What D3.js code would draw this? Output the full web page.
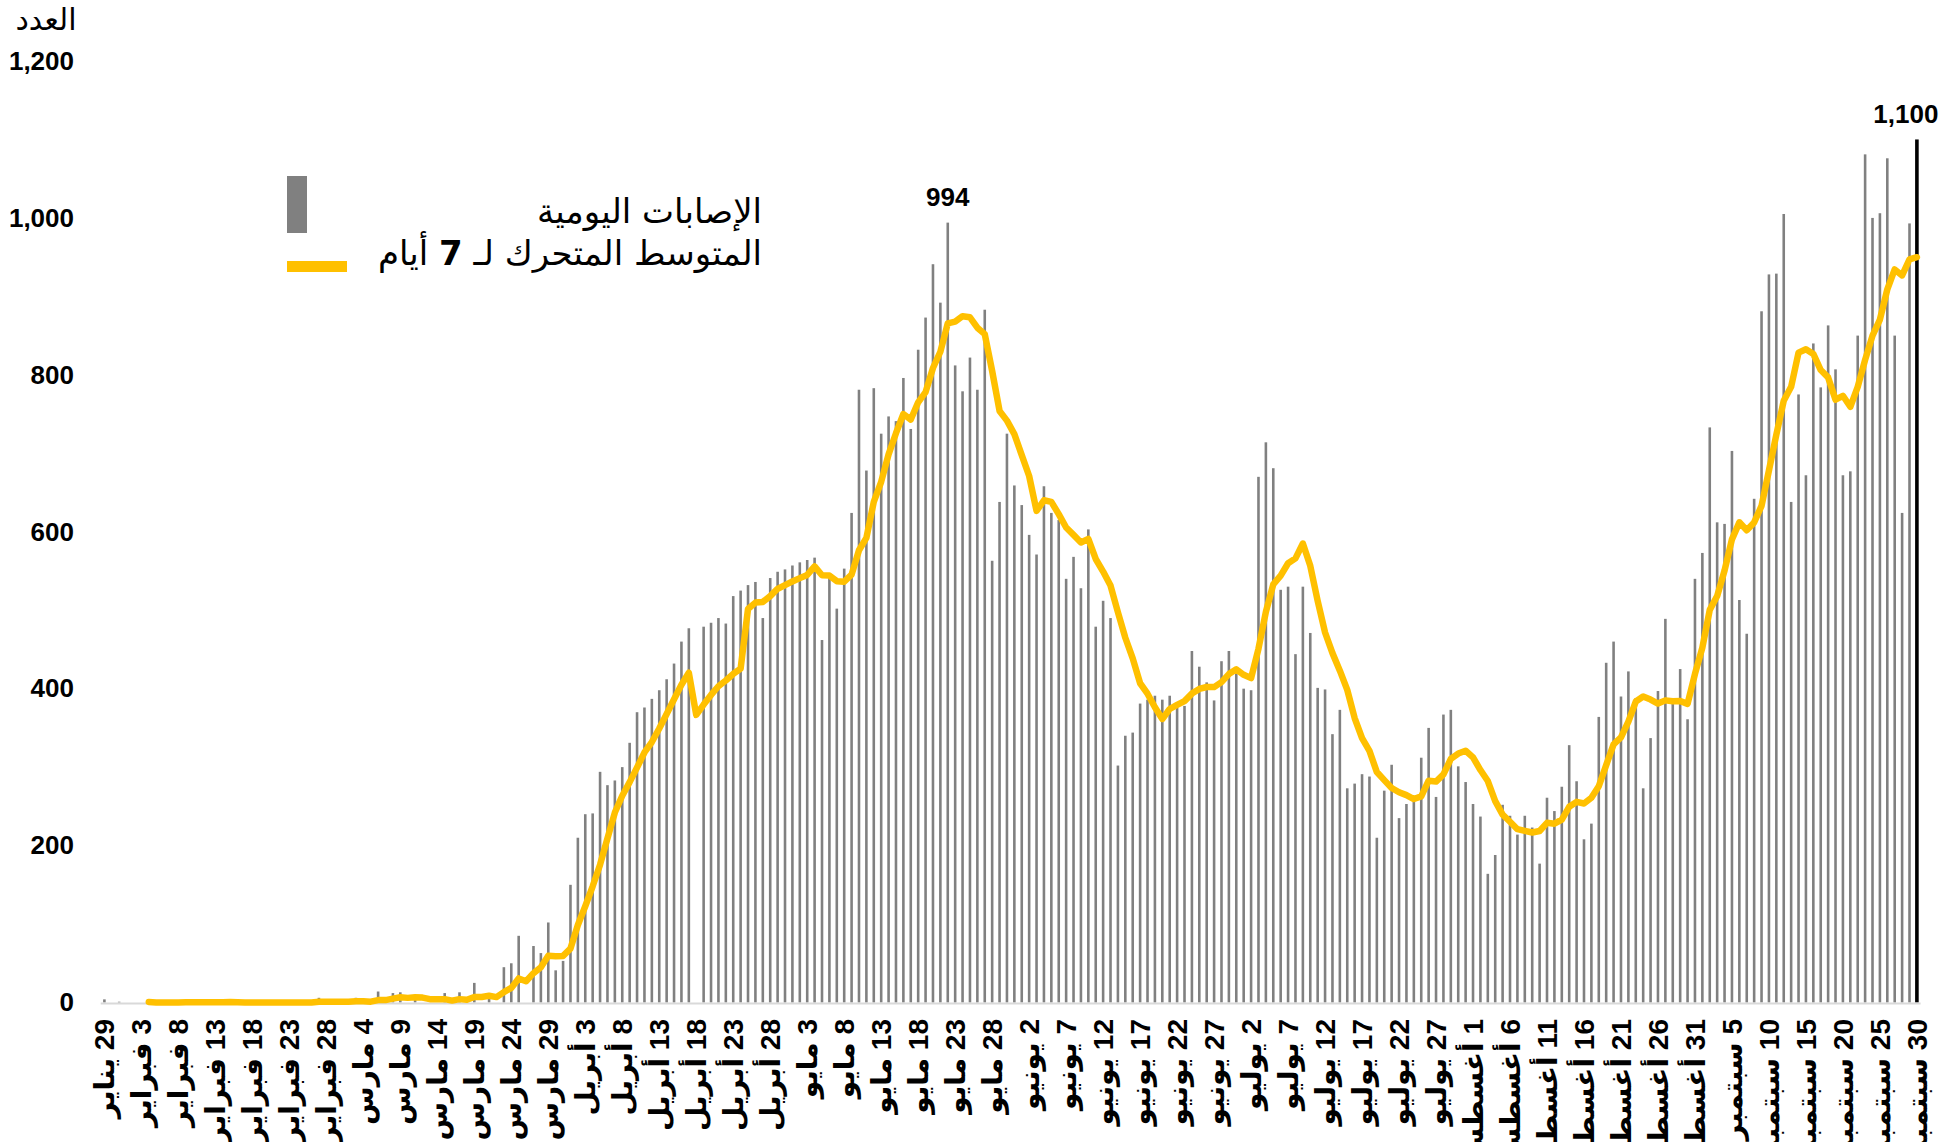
<!DOCTYPE html>
<html lang="ar">
<head>
<meta charset="utf-8">
<script src="https://cdn.jsdelivr.net/npm/d3@7"></script>
<style>
  body { margin: 0; background: #fff; }
  svg { display: block; }
</style>
</head>
<body>
<div id="chart"></div>
<script>
// Daily cases, 29 Jan -> 30 Sep (one value per day)
var dailyCases = [
  4, 0, 1, 0, 0, 0, 0, 0, 0, 0,
  0, 2, 1, 0, 0, 0, 0, 1, 0, 0,
  0, 0, 0, 0, 0, 0, 0, 0, 0, 6,
  0, 0, 0, 0, 6, 0, 2, 14, 0, 12,
  13, 0, 5, 0, 0, 0, 12, 0, 13, 0,
  25, 0, 10, 0, 45, 50, 85, 0, 72, 63,
  102, 41, 53, 150, 210, 240, 241, 294, 277, 283,
  300, 331, 370, 376, 387, 398, 412, 432, 460, 477,
  0, 479, 484, 490, 483, 518, 525, 532, 536, 490,
  541, 549, 552, 557, 561, 564, 567, 462, 546, 502,
  553, 624, 781, 678, 783, 725, 747, 741, 796, 731,
  832, 873, 941, 892, 994, 812, 779, 822, 781, 883,
  563, 638, 725, 659, 634, 596, 571, 658, 624, 615,
  540, 568, 528, 603, 479, 512, 490, 302, 340, 344,
  381, 386, 391, 386, 391, 376, 378, 448, 428, 408,
  385, 435, 448, 420, 400, 398, 670, 714, 681, 526,
  530, 444, 530, 471, 401, 399, 342, 373, 273, 279,
  291, 288, 210, 270, 303, 235, 253, 256, 312, 350,
  262, 367, 373, 301, 281, 253, 237, 164, 188, 252,
  238, 214, 238, 223, 177, 261, 244, 275, 328, 282,
  208, 228, 364, 433, 460, 390, 422, 388, 273, 337,
  397, 489, 382, 425, 361, 540, 573, 733, 612, 610,
  703, 513, 470, 642, 881, 928, 929, 1005, 638, 775,
  672, 840, 784, 863, 807, 672, 677, 850, 1081, 1000,
  1006, 1076, 850, 624, 993, 1100
];

// 7 day moving average
var movingAvg = [
  null, null, null, null, null, null, 0.7, 0.1, 0.1, 0,
  0, 0.3, 0.4, 0.4, 0.4, 0.4, 0.4, 0.6, 0.3, 0.1,
  0.1, 0.1, 0.1, 0.1, 0, 0, 0, 0, 0, 0.9,
  0.9, 0.9, 0.9, 0.9, 1.7, 1.7, 1.1, 3.1, 3.1, 4.9,
  6.7, 5.9, 6.6, 6.3, 4.3, 4.3, 4.3, 2.4, 4.3, 3.6,
  7.1, 7.1, 8.6, 6.9, 13.3, 18.6, 30.7, 27.1, 37.4, 45,
  59.6, 59, 59.4, 68.7, 98.7, 122.7, 148.1, 175.6, 209.3, 242.1,
  263.6, 280.9, 299.4, 318.7, 332, 349.3, 367.7, 386.6, 405, 420.3,
  366.6, 379.7, 392, 403.1, 410.4, 418.7, 425.6, 501.6, 509.7, 510.6,
  517.9, 527.3, 532.1, 536.7, 540.9, 544.9, 555.9, 544.6, 544.1, 537,
  536.4, 545.4, 576.4, 592.3, 638.1, 663.7, 698.7, 725.6, 750.1, 743,
  765, 777.9, 808.7, 829.4, 865.6, 867.9, 874.7, 873.3, 860.1, 851.9,
  804.9, 754, 741.6, 724.4, 697.6, 671.1, 626.6, 640.1, 638.1, 622.4,
  605.4, 596, 586.3, 590.9, 565.3, 549.3, 531.4, 497.4, 464.9, 438.6,
  406.9, 393.6, 376.3, 361.4, 374.1, 379.3, 384.1, 393.7, 399.7, 402.1,
  402, 408.3, 418.6, 424.6, 417.7, 413.4, 450.9, 497.9, 533, 544.1,
  559.9, 566.1, 585, 556.6, 511.9, 471.6, 445.3, 422.9, 398.4, 362.6,
  336.9, 320.7, 293.7, 283.4, 273.4, 268, 264.3, 259.3, 262.7, 282.7,
  281.6, 290.7, 310.4, 317.3, 320.9, 312.4, 296.3, 282.3, 256.7, 239.4,
  230.4, 220.9, 218.7, 216.7, 218.6, 229, 227.9, 233.1, 249.4, 255.7,
  253.6, 260.9, 275.6, 302.6, 329, 337.9, 357.9, 383.6, 390, 386.1,
  381, 385.1, 384, 384.4, 380.6, 418.7, 452.4, 500.4, 518, 550.6,
  590.3, 612, 602, 611.9, 633, 678.1, 723.7, 766.9, 784.7, 828.3,
  832.6, 826.7, 806.1, 796.7, 768.4, 773.3, 759.3, 784.7, 819.1, 850,
  870.4, 908.9, 934.3, 926.7, 947.1, 949.9
];

// one label every 5 days
var tickLabels = [
  "29 يناير", "3 فبراير", "8 فبراير", "13 فبراير", "18 فبراير", "23 فبراير", "28 فبراير",
  "4 مارس", "9 مارس", "14 مارس", "19 مارس", "24 مارس", "29 مارس",
  "3 أبريل", "8 أبريل", "13 أبريل", "18 أبريل", "23 أبريل", "28 أبريل",
  "3 مايو", "8 مايو", "13 مايو", "18 مايو", "23 مايو", "28 مايو",
  "2 يونيو", "7 يونيو", "12 يونيو", "17 يونيو", "22 يونيو", "27 يونيو",
  "2 يوليو", "7 يوليو", "12 يوليو", "17 يوليو", "22 يوليو", "27 يوليو",
  "1 أغسطس", "6 أغسطس", "11 أغسطس", "16 أغسطس", "21 أغسطس", "26 أغسطس", "31 أغسطس",
  "5 سبتمبر", "10 سبتمبر", "15 سبتمبر", "20 سبتمبر", "25 سبتمبر", "30 سبتمبر"
];
var yTicks = [0, 200, 400, 600, 800, 1000, 1200];

var svgWidth = 1948;
var svgHeight = 1142;
var arabicFont = '"DejaVu Sans", sans-serif';
var numFont = '"Liberation Sans", "DejaVu Sans", sans-serif';

var svg = d3.select('#chart')
    .append('svg')
    .attr('width', svgWidth)
    .attr('height', svgHeight);

var xScale = d3.scaleBand()
    .domain(d3.range(dailyCases.length))
    .range([100.7, 1920.6])
    .paddingInner(0.65)
    .paddingOuter(0.325);
var yScale = d3.scaleLinear()
    .domain([0, 1200])
    .range([1002.5, 61]);
var bw = xScale.bandwidth();
var lastIdx = dailyCases.length - 1;

// y axis labels, no line or ticks
var yAxis = svg.append('g')
    .attr('transform', 'translate(80,0)')
    .call(d3.axisLeft(yScale).tickValues(yTicks).tickSize(0).tickPadding(6).tickFormat(d3.format(',')));
yAxis.select('.domain').remove();
yAxis.selectAll('text')
    .attr('font-family', numFont)
    .attr('font-weight', 'bold')
    .attr('font-size', '26px')
    .attr('fill', '#000');

// bars
svg.append('g').selectAll('rect')
    .data(dailyCases)
    .enter()
    .append('rect')
    .attr('x', (d, i) => i === lastIdx ? xScale(i) - 0.5 : xScale(i))
    .attr('width', (d, i) => i === lastIdx ? bw + 1 : bw)
    .attr('y', d => yScale(d))
    .attr('height', d => yScale(0) - yScale(d))
    .attr('fill', (d, i) => i === lastIdx ? '#000' : '#808080');

// base line
svg.append('line')
    .attr('x1', xScale.range()[0])
    .attr('x2', xScale.range()[1])
    .attr('y1', yScale(0) + 1)
    .attr('y2', yScale(0) + 1)
    .attr('stroke', '#d9d9d9')
    .attr('stroke-width', 2);

// moving average
var avgLine = d3.line()
    .defined(d => d !== null)
    .x((d, i) => xScale(i) + bw / 2)
    .y(d => yScale(d));
svg.append('path')
    .datum(movingAvg)
    .attr('d', avgLine)
    .attr('fill', 'none')
    .attr('stroke', '#FFC000')
    .attr('stroke-width', 6.5)
    .attr('stroke-linejoin', 'round')
    .attr('stroke-linecap', 'round');

// x axis labels, rotated
var xAxis = svg.append('g')
    .attr('transform', 'translate(0,1019)')
    .call(d3.axisBottom(xScale)
        .tickValues(d3.range(0, dailyCases.length, 5))
        .tickSize(0)
        .tickFormat(d => tickLabels[d / 5]));
xAxis.select('.domain').remove();
xAxis.selectAll('text')
    .attr('x', 0)
    .attr('y', 0)
    .attr('dy', '0.36em')
    .attr('transform', 'rotate(-90)')
    .attr('direction', 'rtl')
    .attr('text-anchor', 'start')
    .attr('font-family', numFont)
    .attr('font-weight', 'bold')
    .attr('font-size', '28px')
    .attr('fill', '#000');

// value labels
var peakIdx = dailyCases.indexOf(994);
svg.append('text')
    .attr('x', xScale(peakIdx) + bw / 2)
    .attr('y', yScale(dailyCases[peakIdx]) - 17)
    .attr('text-anchor', 'middle')
    .attr('font-family', numFont)
    .attr('font-weight', 'bold')
    .attr('font-size', '26px')
    .text(d3.format(',')(dailyCases[peakIdx]));
svg.append('text')
    .attr('x', xScale(lastIdx) + bw / 2 - 11)
    .attr('y', yScale(dailyCases[lastIdx]) - 16)
    .attr('text-anchor', 'middle')
    .attr('font-family', numFont)
    .attr('font-weight', 'bold')
    .attr('font-size', '26px')
    .text(d3.format(',')(dailyCases[lastIdx]));

// unit label
svg.append('text')
    .attr('x', 46)
    .attr('y', 30)
    .attr('text-anchor', 'middle')
    .attr('font-family', arabicFont)
    .attr('font-size', '30px')
    .attr('fill', '#000')
    .text('العدد');

// legend
var legend = svg.append('g');
legend.append('rect')
    .attr('x', 287).attr('y', 176)
    .attr('width', 20).attr('height', 57)
    .attr('fill', '#808080');
legend.append('rect')
    .attr('x', 287).attr('y', 261)
    .attr('width', 60).attr('height', 11)
    .attr('fill', '#FFC000');
legend.append('text')
    .attr('x', 762).attr('y', 223)
    .attr('direction', 'rtl')
    .attr('text-anchor', 'start')
    .attr('font-family', arabicFont)
    .attr('font-size', '34px')
    .attr('fill', '#000')
    .text('الإصابات اليومية');
var leg2 = legend.append('text')
    .attr('x', 762).attr('y', 265)
    .attr('direction', 'rtl')
    .attr('text-anchor', 'start')
    .attr('font-family', arabicFont)
    .attr('font-size', '34px')
    .attr('fill', '#000');
leg2.append('tspan').text('المتوسط المتحرك لـ ');
leg2.append('tspan').attr('font-weight', 'bold').text('7');
leg2.append('tspan').text(' أيام');
</script>
</body>
</html>
